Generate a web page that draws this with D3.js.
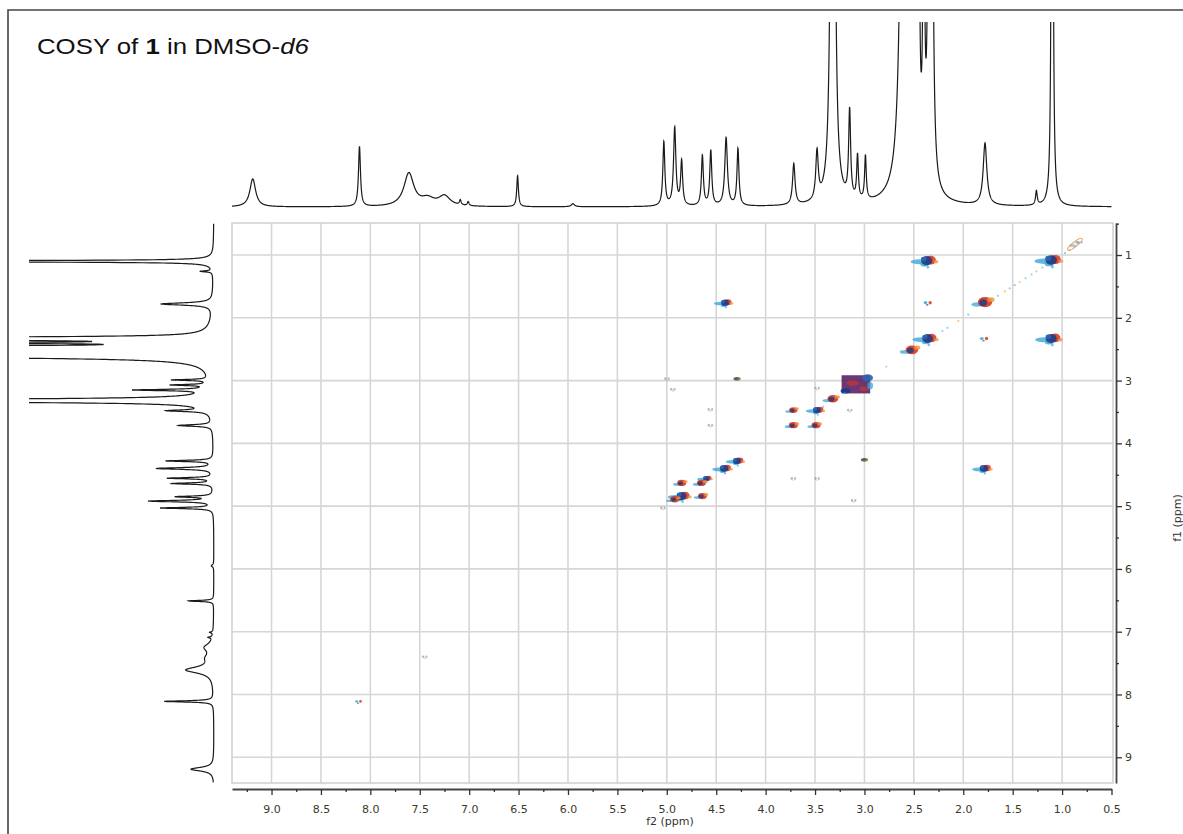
<!DOCTYPE html>
<html><head><meta charset="utf-8">
<script src="https://cdn.jsdelivr.net/npm/d3@7"></script>
<style>body{margin:0;background:#fff;} svg{display:block;}</style>
</head><body>
<svg id="c" width="1183" height="834"></svg>
<script>
// ---------- DATA ----------
const f2TickValues = [9.0,8.5,8.0,7.5,7.0,6.5,6.0,5.5,5.0,4.5,4.0,3.5,3.0,2.5,2.0,1.5,1.0,0.5];
const f2MinorTicks = [9.25,8.75,8.25,7.75,7.25,6.75,6.25,5.75,5.25,4.75,4.25,3.75,3.25,2.75,2.25,1.75,1.25,0.75];
const f1TickValues = [1,2,3,4,5,6,7,8,9];
const f1MinorTicks = [0.5,1.5,2.5,3.5,4.5,5.5,6.5,7.5,8.5];

// 1H peak list read from the projections: position (ppm), height, half-width (ppm)
const peakPpm    = [9.19, 8.11, 7.61, 7.42, 7.25, 7.09, 7.01, 6.51, 5.95, 5.03, 4.92, 4.85, 4.64, 4.555, 4.40, 4.28, 3.715, 3.48, 3.32, 3.15, 3.07, 2.99, 2.60, 2.50, 2.45, 2.40, 2.345, 2.32, 1.78, 1.26, 1.10];
const peakHeight = [28,   60,   33,   7,    10,   5,    4,    31,   3,    64,   78,   44,   50,   55,    68,   57,   41,    48,   1700, 88,   44,   44,   900,  350,  300,  400,  1500,  600,  62,   14,   1350];
const peakWidth  = [0.035,0.012,0.06, 0.08, 0.07, 0.01, 0.01, 0.01, 0.02, 0.012,0.014,0.012,0.012,0.012, 0.016,0.012,0.015, 0.015,0.012,0.012,0.01, 0.01, 0.025,0.025,0.008,0.008,0.006, 0.012,0.022,0.01, 0.006];

// COSY cross peaks: [f2 ppm, f1 ppm, intensity 0..1, appearance]
const crossPeaks = [
  [0.87, 0.83, 0.35, 'o'],
  [1.11, 1.08, 0.90, 'b'],
  [2.37, 1.09, 0.85, 'b'],
  [4.41, 1.76, 0.50, 'b'],
  [2.36, 1.76, 0.25, 'c'],
  [1.78, 1.75, 0.90, 'r'],
  [2.36, 2.33, 0.80, 'b'],
  [1.79, 2.33, 0.25, 'c'],
  [1.11, 2.33, 0.85, 'b'],
  [2.52, 2.51, 0.75, 'r'],
  [3.08, 3.06, 1.00, 'p'],
  [4.29, 2.97, 0.25, 'd'],
  [3.32, 3.29, 0.60, 'r'],
  [3.72, 3.47, 0.40, 'r'],
  [3.48, 3.47, 0.50, 'b'],
  [3.72, 3.71, 0.45, 'r'],
  [3.49, 3.71, 0.45, 'r'],
  [3.48, 3.12, 0.15, 'f'],
  [4.94, 3.14, 0.15, 'f'],
  [4.56, 3.46, 0.12, 'f'],
  [4.56, 3.71, 0.12, 'f'],
  [3.15, 3.47, 0.10, 'f'],
  [4.29, 4.28, 0.50, 'b'],
  [4.42, 4.40, 0.55, 'b'],
  [4.60, 4.56, 0.35, 'b'],
  [4.65, 4.63, 0.45, 'r'],
  [4.85, 4.63, 0.45, 'r'],
  [4.85, 4.84, 0.70, 'b'],
  [4.64, 4.84, 0.45, 'r'],
  [4.92, 4.89, 0.45, 'r'],
  [3.00, 4.26, 0.25, 'd'],
  [1.79, 4.40, 0.55, 'b'],
  [3.72, 4.56, 0.12, 'f'],
  [3.48, 4.56, 0.12, 'f'],
  [3.11, 4.91, 0.18, 'f'],
  [5.00, 2.97, 0.08, 'f'],
  [5.04, 5.03, 0.08, 'f'],
  [7.45, 7.40, 0.12, 'f'],
  [8.12, 8.11, 0.15, 'c']
];
// weak diagonal speckles
const diagTrace = [0.80,0.92,0.97,1.20,1.26,1.31,1.37,1.43,1.48,1.53,1.58,1.65,1.95,2.05,2.16,2.21,2.78,3.20,3.42];

// ---------- LAYOUT ----------
const svg = d3.select('#c');
const x = d3.scaleLinear().domain([9.40, 0.5]).range([232, 1111.5]);
const y = d3.scaleLinear().domain([0.49, 9.41]).range([223, 783]);
const P = {l:232, r:1113, t:223, b:783};

// outer frame (top and left only visible)
svg.append('path').attr('d','M8,840V10H1190').attr('fill','none').attr('stroke','#444').attr('stroke-width',1.6);

// title
const title = svg.append('text').attr('transform','translate(37,54) scale(1.2,1)')
  .attr('font-family','Liberation Sans, Arial, sans-serif').attr('font-size',21.5).attr('fill','#111');
title.append('tspan').text('COSY of ');
title.append('tspan').attr('font-weight','bold').text('1');
title.append('tspan').text(' in DMSO-');
title.append('tspan').attr('font-style','italic').text('d6');

// defs / clips
const defs = svg.append('defs');
defs.append('clipPath').attr('id','plotClip').append('rect').attr('x',P.l).attr('y',P.t).attr('width',P.r-P.l).attr('height',P.b-P.t);
defs.append('clipPath').attr('id','topClip').append('rect').attr('x',225).attr('y',22).attr('width',900).attr('height',200);
defs.append('clipPath').attr('id','leftClip').append('rect').attr('x',29).attr('y',218).attr('width',195).attr('height',570);

// grid
const grid = svg.append('g');
grid.selectAll('line.v').data(f2TickValues.filter(d=>d>0.6)).join('line')
  .attr('x1',d=>x(d)).attr('x2',d=>x(d)).attr('y1',P.t).attr('y2',P.b)
  .attr('stroke','#d6d6d6').attr('stroke-width',1.6);
grid.selectAll('line.h').data(f1TickValues).join('line')
  .attr('x1',P.l).attr('x2',P.r).attr('y1',d=>y(d)).attr('y2',d=>y(d))
  .attr('stroke','#d6d6d6').attr('stroke-width',1.6);
svg.append('rect').attr('x',P.l).attr('y',P.t).attr('width',P.r-P.l).attr('height',P.b-P.t)
  .attr('fill','none').attr('stroke','#cfcfcf').attr('stroke-width',1.5);

// ---------- 2D contours ----------
const C = {navy:'#1c3a86', blue:'#2d63b0', cyan:'#3aa8d8', red:'#d9361d', orange:'#f2923a', purple:'#5a2366', dark:'#3c4a3c'};
const g2 = svg.append('g').attr('clip-path','url(#plotClip)');
function ell(g, cx, cy, rx, ry, fill, op){
  g.append('ellipse').attr('cx',cx).attr('cy',cy).attr('rx',Math.max(rx,0.6)).attr('ry',Math.max(ry,0.6)).attr('fill',fill).attr('opacity',op);
}
crossPeaks.forEach(([f2,f1,inten,kind])=>{
  const cx = x(f2), cy = y(f1);
  const s = 3 + 10*inten;
  const g = g2.append('g');
  if (kind==='b'){
    ell(g, cx-0.6*s, cy+0.1*s, 0.8*s, 0.22*s, C.cyan, 0.8);
    ell(g, cx-0.2*s, cy+0.3*s, 0.35*s, 0.22*s, C.cyan, 0.85);
    ell(g, cx+0.35*s, cy-0.05*s, 0.45*s, 0.38*s, C.red, 0.88);
    ell(g, cx, cy, 0.48*s, 0.4*s, C.navy, 0.88);
    ell(g, cx-0.25*s, cy-0.15*s, 0.25*s, 0.2*s, C.blue, 0.9);
    ell(g, cx+0.8*s, cy+0.1*s, 0.22*s, 0.15*s, C.orange, 0.75);
    ell(g, cx+0.1*s, cy+0.55*s, 0.12*s, 0.15*s, C.cyan, 0.7);
  } else if (kind==='r'){
    ell(g, cx-0.65*s, cy+0.2*s, 0.5*s, 0.18*s, C.cyan, 0.75);
    ell(g, cx, cy, 0.6*s, 0.42*s, C.red, 0.9);
    ell(g, cx-0.15*s, cy+0.05*s, 0.32*s, 0.28*s, C.navy, 0.82);
    ell(g, cx+0.5*s, cy-0.2*s, 0.3*s, 0.2*s, C.orange, 0.8);
  } else if (kind==='p'){
    g.append('rect').attr('x',cx-1.15*s).attr('y',cy-0.7*s).attr('width',2.2*s).attr('height',1.4*s).attr('fill',C.purple).attr('opacity',0.9);
    ell(g, cx+0.85*s, cy-0.5*s, 0.42*s, 0.28*s, C.blue, 0.9);
    ell(g, cx-0.85*s, cy+0.5*s, 0.38*s, 0.2*s, C.navy, 0.9);
    ell(g, cx-0.3*s, cy-0.1*s, 0.5*s, 0.22*s, C.red, 0.55);
    ell(g, cx+0.55*s, cy+0.35*s, 0.32*s, 0.18*s, C.red, 0.65);
    ell(g, cx+1.05*s, cy+0.1*s, 0.22*s, 0.28*s, C.cyan, 0.75);
  } else if (kind==='c'){
    ell(g, cx-0.4*s, cy, 0.35*s, 0.25*s, C.cyan, 0.9);
    ell(g, cx+0.45*s, cy, 0.3*s, 0.3*s, C.red, 0.85);
    ell(g, cx-0.1*s, cy+0.4*s, 0.25*s, 0.15*s, C.blue, 0.8);
  } else if (kind==='d'){
    ell(g, cx, cy, 0.65*s, 0.32*s, C.dark, 0.85);
    ell(g, cx+0.4*s, cy+0.1*s, 0.3*s, 0.2*s, C.orange, 0.5);
  } else if (kind==='o'){
    g.append('ellipse').attr('cx',cx).attr('cy',cy).attr('rx',1.4*s).attr('ry',0.35*s)
      .attr('transform',`rotate(-38,${cx},${cy})`).attr('fill','none').attr('stroke',C.orange).attr('stroke-width',1.2).attr('opacity',0.8);
    ell(g, cx-0.3*s, cy+0.2*s, 0.5*s, 0.25*s, C.cyan, 0.5);
    ell(g, cx+0.4*s, cy-0.3*s, 0.35*s, 0.2*s, C.blue, 0.5);
  } else { // faint
    ell(g, cx-1.5, cy, 1.2, 1.4, '#8a8a8a', 0.6);
    ell(g, cx+1.8, cy, 1.0, 1.4, '#6f8fb8', 0.6);
    ell(g, cx+0.2, cy+1.6, 1.2, 0.7, '#e0b080', 0.6);
  }
});
g2.selectAll('circle.dg').data(diagTrace).join('circle')
  .attr('cx',d=>x(d)).attr('cy',d=>y(d)).attr('r',1.1)
  .attr('fill',(d,i)=>i%3===1? C.orange : C.cyan).attr('opacity',0.55);

// ---------- 1D projections ----------
const ppmGrid = d3.range(9.40, 0.4999, -0.0015);
const spec = ppmGrid.map(p=>{
  let v = 0;
  for (let i=0;i<peakPpm.length;i++){
    const w = peakWidth[i], d = p-peakPpm[i];
    v += peakHeight[i]*w*w/(w*w+d*d);
  }
  return {ppm:p, v:v};
});
const topLine = d3.line().x(d=>x(d.ppm)).y(d=>207 - d.v);
svg.append('path').datum(spec).attr('clip-path','url(#topClip)')
  .attr('d',topLine).attr('fill','none').attr('stroke','#1a1a1a').attr('stroke-width',1.2);
const leftLine = d3.line().x(d=>214 - 0.82*d.v).y(d=>y(d.ppm));
svg.append('path').datum(spec).attr('clip-path','url(#leftClip)')
  .attr('d',leftLine).attr('fill','none').attr('stroke','#1a1a1a').attr('stroke-width',1.2);

// ---------- Axes ----------
const fmt1 = d3.format('.1f');
svg.append('g').attr('transform','translate(0,789)')
  .call(d3.axisBottom(x).tickValues(f2TickValues).tickFormat(fmt1).tickSize(6).tickSizeOuter(0).tickPadding(10));
svg.append('g').attr('transform','translate(0,789)')
  .call(d3.axisBottom(x).tickValues(f2MinorTicks).tickFormat('').tickSize(3).tickSizeOuter(0))
  .select('.domain').remove();
svg.append('g').attr('transform','translate(1116,0)')
  .call(d3.axisRight(y).tickValues(f1TickValues).tickFormat(d3.format('d')).tickSize(6).tickSizeOuter(0).tickPadding(3));
svg.append('g').attr('transform','translate(1116,0)')
  .call(d3.axisRight(y).tickValues(f1MinorTicks).tickFormat('').tickSize(3).tickSizeOuter(0))
  .select('.domain').remove();
svg.selectAll('.domain').attr('stroke','#444').attr('stroke-width',1.8);
svg.selectAll('.tick line').attr('stroke','#333').attr('stroke-width',1.3);
svg.selectAll('.tick text').attr('font-family','DejaVu Sans, Verdana, sans-serif').attr('font-size',11).attr('fill','#3a3a2a');

svg.append('text').attr('x',670).attr('y',825).attr('text-anchor','middle')
  .attr('font-family','DejaVu Sans, Verdana, sans-serif').attr('font-size',11).attr('fill','#333').text('f2 (ppm)');
svg.append('text').attr('transform','translate(1181,518) rotate(-90)').attr('text-anchor','middle')
  .attr('font-family','DejaVu Sans, Verdana, sans-serif').attr('font-size',11).attr('fill','#333').text('f1 (ppm)');
</script>
</body></html>
